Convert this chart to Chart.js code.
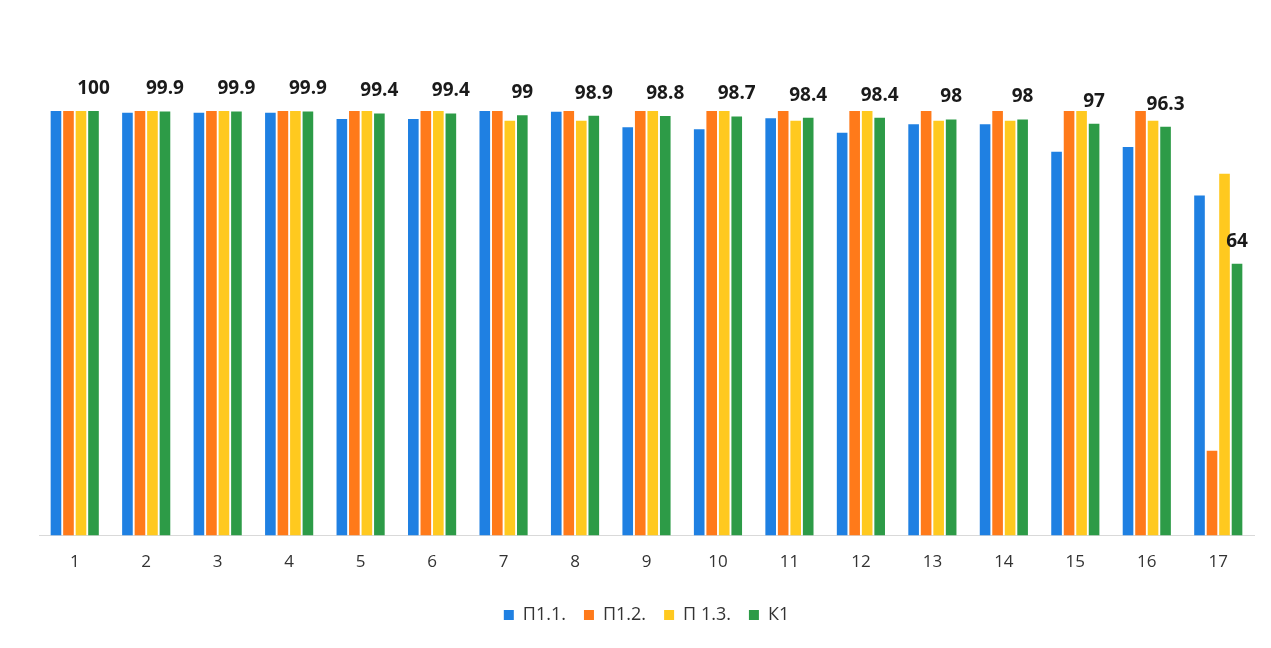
<!DOCTYPE html>
<html lang="ru">
<head>
  <meta charset="UTF-8">
  <title>П1 / К1</title>
  <style>
    html, body { margin: 0; padding: 0; background: #fff; }
    #wrap { width: 1271px; height: 648px; position: relative; }
  </style>
  <script src="https://cdn.jsdelivr.net/npm/chart.js"></script>
</head>
<body>
  <div id="wrap"><canvas id="barChart"></canvas></div>
  <script>
    // Categories 1..17
    const categories = ['1', '2', '3', '4', '5', '6', '7', '8', '9', '10', '11', '12', '13', '14', '15', '16', '17'];

    // Series values
    const p11 = [100, 99.6, 99.6, 99.6, 98.1, 98.1, 100, 99.8, 96.2, 95.7, 98.3, 94.9, 96.9, 96.9, 90.4, 91.5, 80.1];
    const p12 = [100, 100, 100, 100, 100, 100, 100, 100, 100, 100, 100, 100, 100, 100, 100, 100, 20.0];
    const p13 = [100, 100, 100, 100, 100, 100, 97.7, 97.7, 100, 100, 97.7, 100, 97.7, 97.7, 100, 97.7, 85.2];
    const k1 = [100, 99.9, 99.9, 99.9, 99.4, 99.4, 99, 98.9, 98.8, 98.7, 98.4, 98.4, 98, 98, 97, 96.3, 64];

    const seriesNames = ['П1.1.', 'П1.2.', 'П 1.3.', 'К1'];
    const colors = ['#1F80E2', '#FF7A1A', '#FFC91F', '#2D9B47'];

    // Draw the K1 values above its bars (no datalabels plugin offline)
    const k1Labels = {
      id: 'k1Labels',
      afterDatasetsDraw(chart) {
        const ctx = chart.ctx;
        const meta = chart.getDatasetMeta(3);
        ctx.save();
        ctx.font = 'bold 19px "Open Sans", sans-serif';
        ctx.fillStyle = '#1a1a1a';
        ctx.textAlign = 'center';
        ctx.textBaseline = 'bottom';
        meta.data.forEach((bar, i) => {
          ctx.fillText(String(k1[i]), bar.x, bar.y - 13);
        });
        ctx.restore();
      }
    };

    const ctx = document.getElementById('barChart').getContext('2d');
    new Chart(ctx, {
      type: 'bar',
      data: {
        labels: categories,
        datasets: [p11, p12, p13, k1].map((d, i) => ({
          label: seriesNames[i],
          data: d,
          backgroundColor: colors[i],
          borderWidth: 0,
          categoryPercentage: 0.7,
          barPercentage: 0.85
        }))
      },
      options: {
        responsive: true,
        maintainAspectRatio: false,
        animation: false,
        layout: { padding: { top: 111, left: 39, right: 17, bottom: 14 } },
        plugins: {
          legend: {
            position: 'bottom',
            labels: {
              boxWidth: 10,
              boxHeight: 10,
              padding: 18,
              color: '#333',
              font: { family: '"Open Sans", sans-serif', size: 18 }
            }
          },
          tooltip: { enabled: false }
        },
        scales: {
          x: {
            grid: { display: false, drawTicks: false },
            border: { display: true, color: '#d9d9d9', width: 1 },
            ticks: {
              color: '#333',
              padding: 16,
              font: { family: '"Open Sans", sans-serif', size: 17 }
            }
          },
          y: {
            display: false,
            min: 0,
            max: 100
          }
        }
      },
      plugins: [k1Labels]
    });
  </script>
</body>
</html>
